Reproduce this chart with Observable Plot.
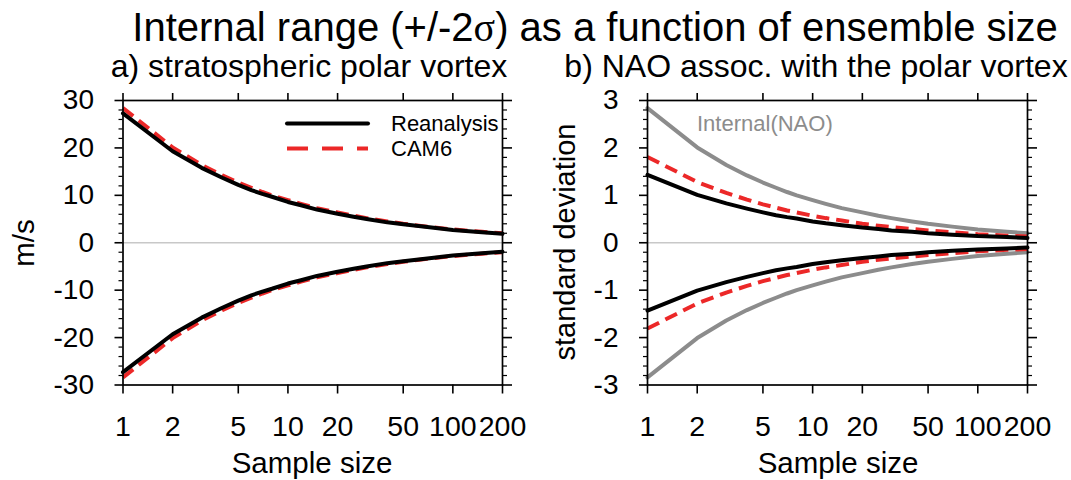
<!DOCTYPE html>
<html>
<head>
<meta charset="utf-8">
<script src="https://cdn.jsdelivr.net/npm/d3@7"></script>
<script src="https://cdn.jsdelivr.net/npm/@observablehq/plot@0.6"></script>
<style>
  body { margin: 0; background: #fff; }
  #wrap { position: relative; width: 1071px; height: 480px; overflow: hidden; font-family: "Liberation Sans", Arial, sans-serif; }
  #wrap > svg { position: absolute; top: 0; }
</style>
</head>
<body>
<div id="wrap"></div>
<script>
// ---- data ----
const sampleSize = [1, 2, 3, 4, 5, 6, 7, 8, 10, 12, 15, 20, 25, 30, 40, 50, 70, 100, 150, 200];

// panel a: stratospheric polar vortex (m/s)
const vortexReanalysisUpper = [27.3, 19.3, 15.8, 13.7, 12.2, 11.1, 10.3, 9.7, 8.6, 7.9, 7.0, 6.1, 5.5, 5.0, 4.3, 3.9, 3.3, 2.7, 2.2, 1.9];
const vortexReanalysisLower = [-27.3, -19.3, -15.8, -13.7, -12.2, -11.1, -10.3, -9.7, -8.6, -7.9, -7.0, -6.1, -5.5, -5.0, -4.3, -3.9, -3.3, -2.7, -2.2, -1.9];
const vortexCAM6Upper = [28.4, 20.1, 16.4, 14.2, 12.7, 11.6, 10.7, 10.0, 9.0, 8.2, 7.3, 6.4, 5.7, 5.2, 4.5, 4.0, 3.4, 2.8, 2.3, 2.0];
const vortexCAM6Lower = [-28.4, -20.1, -16.4, -14.2, -12.7, -11.6, -10.7, -10.0, -9.0, -8.2, -7.3, -6.4, -5.7, -5.2, -4.5, -4.0, -3.4, -2.8, -2.3, -2.0];

// panel b: NAO associated with the polar vortex (standard deviation)
const naoInternalUpper = [2.84, 2.01, 1.64, 1.42, 1.27, 1.16, 1.07, 1.00, 0.90, 0.82, 0.73, 0.64, 0.57, 0.52, 0.45, 0.40, 0.34, 0.28, 0.23, 0.20];
const naoInternalLower = [-2.84, -2.01, -1.64, -1.42, -1.27, -1.16, -1.07, -1.00, -0.90, -0.82, -0.73, -0.64, -0.57, -0.52, -0.45, -0.40, -0.34, -0.28, -0.23, -0.20];
const naoReanalysisUpper = [1.43, 1.01, 0.83, 0.72, 0.64, 0.58, 0.54, 0.51, 0.45, 0.41, 0.37, 0.32, 0.29, 0.26, 0.23, 0.20, 0.17, 0.14, 0.12, 0.10];
const naoReanalysisLower = [-1.43, -1.01, -0.83, -0.72, -0.64, -0.58, -0.54, -0.51, -0.45, -0.41, -0.37, -0.32, -0.29, -0.26, -0.23, -0.20, -0.17, -0.14, -0.12, -0.10];
const naoCAM6Upper = [1.81, 1.28, 1.05, 0.91, 0.81, 0.74, 0.68, 0.64, 0.57, 0.52, 0.47, 0.40, 0.36, 0.33, 0.29, 0.26, 0.22, 0.18, 0.15, 0.13];
const naoCAM6Lower = [-1.81, -1.28, -1.05, -0.91, -0.81, -0.74, -0.68, -0.64, -0.57, -0.52, -0.47, -0.40, -0.36, -0.33, -0.29, -0.26, -0.22, -0.18, -0.15, -0.13];

// ticks and labels
const xTicks = [1, 2, 5, 10, 20, 50, 100, 200];
const xTickLabels = ["1", "2", "5", "10", "20", "50", "100", "200"];
const vortexYMajor = [-30, -20, -10, 0, 10, 20, 30];
const vortexYMinor = [-28, -26, -24, -22, -18, -16, -14, -12, -8, -6, -4, -2, 2, 4, 6, 8, 12, 14, 16, 18, 22, 24, 26, 28];
const naoYMajor = [-3, -2, -1, 0, 1, 2, 3];
const naoYMinor = [-2.8, -2.6, -2.4, -2.2, -1.8, -1.6, -1.4, -1.2, -0.8, -0.6, -0.4, -0.2, 0.2, 0.4, 0.6, 0.8, 1.2, 1.4, 1.6, 1.8, 2.2, 2.4, 2.6, 2.8];

const mainTitle = "Internal range (+/-2";
const mainTitleSigma = "σ";
const mainTitleEnd = ") as a function of ensemble size";
const titleA = "a) stratospheric polar vortex";
const titleB = "b) NAO assoc. with the polar vortex";
const xLabel = "Sample size";
const yLabelA = "m/s";
const yLabelB = "standard deviation";
const legendNames = ["Reanalysis", "CAM6"];
const internalLabel = "Internal(NAO)";

// ---- styles ----
const FONT = '"Liberation Sans", Arial, sans-serif';
const BLACK = "#000";
const RED = "#ec2828";
const GREY = "#8c8c8c";

function rows(values) { return sampleSize.map((n, i) => ({n, v: values[i]})); }

function lineMark(values, stroke, dashed, width) {
  return Plot.line(rows(values), {
    x: "n", y: "v", stroke, strokeWidth: width,
    strokeDasharray: dashed ? "13,7" : null,
    strokeLinejoin: "round", strokeLinecap: dashed ? "butt" : "round"
  });
}

function panel({width, left, marginLeft, marginRight, yDomain, yMajor, yMinor, lines}) {
  const svg = Plot.plot({
    width, height: 480,
    marginTop: 100, marginBottom: 95.5, marginLeft, marginRight,
    x: {type: "log", domain: [1, 200]},
    y: {domain: yDomain},
    style: {fontFamily: FONT, fontSize: "28px", background: "transparent", overflow: "visible", color: "#000"},
    marks: [
      Plot.ruleY([0], {stroke: "#c8c8c8", strokeWidth: 1.5}),
      ...lines,
      Plot.frame({stroke: "#000", strokeWidth: 1.7}),
      Plot.axisX(xTicks, {anchor: "bottom", tickSize: 9, strokeWidth: 1.6, fill: "none", label: null}),
      Plot.text(xTicks, {x: d => d, text: (d, i) => xTickLabels[i], frameAnchor: "bottom", dy: 31, lineAnchor: "top", fontSize: 28.5, fill: "#000"}),
      Plot.axisX(xTicks, {anchor: "top", tickSize: 8, strokeWidth: 1.6, fill: "none", label: null}),
      Plot.axisY(yMajor, {anchor: "left", tickSize: 8, tickPadding: 21, strokeWidth: 1.6, tickFormat: d => String(d), label: null, fontSize: 28}),
      Plot.axisY(yMinor, {anchor: "left", tickSize: 4, strokeWidth: 1.2, fill: "none", label: null}),
      Plot.axisY(yMajor, {anchor: "right", tickSize: 9, strokeWidth: 1.6, fill: "none", label: null}),
      Plot.axisY(yMinor, {anchor: "right", tickSize: 4, strokeWidth: 1.2, fill: "none", label: null})
    ]
  });
  svg.style.left = left + "px";
  return svg;
}

const wrap = document.getElementById("wrap");

wrap.appendChild(panel({
  width: 535, left: 0, marginLeft: 122.5, marginRight: 33,
  yDomain: [-30, 30], yMajor: vortexYMajor, yMinor: vortexYMinor,
  lines: [
    lineMark(vortexCAM6Upper, RED, true, 4),
    lineMark(vortexCAM6Lower, RED, true, 4),
    lineMark(vortexReanalysisUpper, BLACK, false, 4),
    lineMark(vortexReanalysisLower, BLACK, false, 4)
  ]
}));

wrap.appendChild(panel({
  width: 536, left: 535, marginLeft: 112, marginRight: 44,
  yDomain: [-3, 3], yMajor: naoYMajor, yMinor: naoYMinor,
  lines: [
    lineMark(naoInternalUpper, GREY, false, 4),
    lineMark(naoInternalLower, GREY, false, 4),
    lineMark(naoCAM6Upper, RED, true, 4),
    lineMark(naoCAM6Lower, RED, true, 4),
    lineMark(naoReanalysisUpper, BLACK, false, 4),
    lineMark(naoReanalysisLower, BLACK, false, 4)
  ]
}));

// ---- overlay: titles, axis titles, legend ----
const ns = "http://www.w3.org/2000/svg";
const ov = d3.select(wrap).append("svg")
  .attr("xmlns", ns).attr("width", 1071).attr("height", 480)
  .style("left", "0px").style("pointer-events", "none")
  .style("font-family", FONT);

const t = ov.append("text").attr("x", 595).attr("y", 41).attr("text-anchor", "middle")
  .attr("font-size", 40).attr("fill", "#000");
t.append("tspan").text(mainTitle);
t.append("tspan").attr("font-family", '"Liberation Serif", "DejaVu Serif", serif').text(mainTitleSigma);
t.append("tspan").text(mainTitleEnd);

ov.append("text").attr("x", 309).attr("y", 77).attr("text-anchor", "middle").attr("font-size", 32).text(titleA);
ov.append("text").attr("x", 816).attr("y", 77).attr("text-anchor", "middle").attr("font-size", 32).text(titleB);

ov.append("text").attr("x", 312).attr("y", 473).attr("text-anchor", "middle").attr("font-size", 29.5).text(xLabel);
ov.append("text").attr("x", 838).attr("y", 473).attr("text-anchor", "middle").attr("font-size", 29.5).text(xLabel);

ov.append("text").attr("transform", "translate(34,243) rotate(-90)").attr("text-anchor", "middle").attr("font-size", 29.5).text(yLabelA);
ov.append("text").attr("transform", "translate(575,242) rotate(-90)").attr("text-anchor", "middle").attr("font-size", 29).text(yLabelB);

// legend (panel a)
const legY = [123.5, 148.5];
ov.append("line").attr("x1", 287).attr("x2", 368).attr("y1", legY[0]).attr("y2", legY[0])
  .attr("stroke", BLACK).attr("stroke-width", 4).attr("stroke-linecap", "round");
ov.append("line").attr("x1", 287).attr("x2", 368).attr("y1", legY[1]).attr("y2", legY[1])
  .attr("stroke", RED).attr("stroke-width", 4).attr("stroke-dasharray", "21,14");
legendNames.forEach((name, i) => {
  ov.append("text").attr("x", 391).attr("y", legY[i]).attr("dy", "0.36em")
    .attr("font-size", 22).attr("fill", "#000").text(name);
});

// Internal(NAO) label (panel b)
ov.append("text").attr("x", 697).attr("y", 123).attr("dy", "0.36em")
  .attr("font-size", 22).attr("fill", GREY).text(internalLabel);
</script>
</body>
</html>
